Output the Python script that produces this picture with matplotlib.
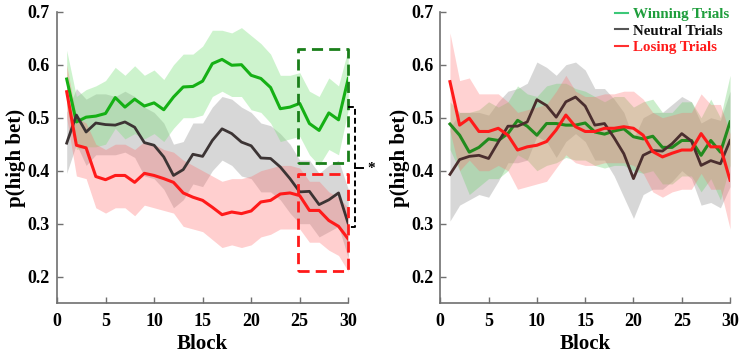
import matplotlib
matplotlib.use("Agg")
import matplotlib.pyplot as plt
import numpy as np
from matplotlib.lines import Line2D

plt.rcParams['font.family'] = ['Liberation Serif', 'DejaVu Serif']
plt.rcParams['font.weight'] = 'bold'

blocks = list(range(1, 31))

# ---- Left panel ----
L_win = [0.573, 0.492, 0.501, 0.503, 0.508, 0.538, 0.520, 0.535, 0.522, 0.528,
         0.515, 0.539, 0.558, 0.559, 0.569, 0.602, 0.610, 0.599, 0.600, 0.580,
         0.574, 0.557, 0.517, 0.520, 0.527, 0.489, 0.476, 0.509, 0.496, 0.574]
L_win_hi = [0.627, 0.540, 0.553, 0.560, 0.570, 0.595, 0.580, 0.598, 0.580, 0.590,
            0.572, 0.600, 0.620, 0.620, 0.635, 0.665, 0.665, 0.660, 0.670, 0.655,
            0.640, 0.620, 0.580, 0.580, 0.585, 0.550, 0.540, 0.575, 0.560, 0.630]
L_win_lo = [0.520, 0.440, 0.445, 0.445, 0.450, 0.480, 0.460, 0.470, 0.460, 0.470,
            0.455, 0.480, 0.500, 0.500, 0.505, 0.540, 0.550, 0.540, 0.540, 0.515,
            0.510, 0.490, 0.455, 0.460, 0.465, 0.430, 0.410, 0.440, 0.430, 0.515]

L_neu = [0.452, 0.505, 0.473, 0.490, 0.487, 0.486, 0.492, 0.482, 0.453, 0.448,
         0.426, 0.391, 0.402, 0.431, 0.427, 0.457, 0.479, 0.470, 0.454, 0.447,
         0.424, 0.423, 0.407, 0.385, 0.360, 0.361, 0.336, 0.345, 0.358, 0.300]
L_neu_hi = [0.510, 0.555, 0.535, 0.545, 0.545, 0.540, 0.550, 0.540, 0.520, 0.510,
            0.490, 0.450, 0.455, 0.490, 0.490, 0.520, 0.540, 0.535, 0.520, 0.510,
            0.490, 0.485, 0.470, 0.450, 0.420, 0.420, 0.395, 0.410, 0.420, 0.365]
L_neu_lo = [0.395, 0.450, 0.410, 0.430, 0.430, 0.430, 0.435, 0.425, 0.390, 0.385,
            0.365, 0.330, 0.345, 0.375, 0.370, 0.400, 0.420, 0.410, 0.390, 0.385,
            0.360, 0.360, 0.345, 0.320, 0.300, 0.300, 0.275, 0.285, 0.295, 0.235]

L_los = [0.549, 0.448, 0.443, 0.389, 0.383, 0.391, 0.391, 0.378, 0.395, 0.391,
         0.385, 0.378, 0.358, 0.350, 0.344, 0.331, 0.317, 0.322, 0.319, 0.324,
         0.341, 0.344, 0.356, 0.358, 0.353, 0.325, 0.325, 0.306, 0.295, 0.271]
L_los_hi = [0.600, 0.500, 0.490, 0.450, 0.440, 0.450, 0.450, 0.440, 0.455, 0.450,
            0.440, 0.435, 0.420, 0.410, 0.400, 0.390, 0.380, 0.385, 0.385, 0.390,
            0.400, 0.405, 0.410, 0.410, 0.405, 0.380, 0.380, 0.360, 0.350, 0.330]
L_los_lo = [0.500, 0.390, 0.385, 0.330, 0.320, 0.330, 0.330, 0.315, 0.335, 0.330,
            0.325, 0.320, 0.295, 0.290, 0.285, 0.270, 0.255, 0.260, 0.255, 0.260,
            0.275, 0.280, 0.290, 0.290, 0.290, 0.265, 0.265, 0.250, 0.240, 0.210]

# ---- Right panel ----
R_win = [0.488, 0.467, 0.435, 0.444, 0.460, 0.457, 0.470, 0.495, 0.484, 0.467,
         0.489, 0.489, 0.486, 0.486, 0.490, 0.473, 0.469, 0.475, 0.479, 0.464,
         0.460, 0.465, 0.444, 0.444, 0.457, 0.457, 0.429, 0.457, 0.435, 0.492]
R_win_hi = [0.530, 0.510, 0.510, 0.515, 0.530, 0.520, 0.530, 0.560, 0.545, 0.540,
            0.560, 0.565, 0.565, 0.555, 0.550, 0.540, 0.530, 0.540, 0.540, 0.520,
            0.530, 0.535, 0.510, 0.510, 0.530, 0.530, 0.500, 0.535, 0.500, 0.580]
R_win_lo = [0.440, 0.400, 0.355, 0.370, 0.385, 0.385, 0.400, 0.430, 0.420, 0.400,
            0.410, 0.415, 0.425, 0.420, 0.420, 0.410, 0.405, 0.410, 0.410, 0.400,
            0.395, 0.400, 0.375, 0.375, 0.390, 0.390, 0.360, 0.385, 0.345, 0.410]

R_neu = [0.393, 0.421, 0.427, 0.429, 0.423, 0.454, 0.484, 0.484, 0.492, 0.534,
         0.523, 0.501, 0.530, 0.539, 0.522, 0.486, 0.489, 0.462, 0.432, 0.385,
         0.429, 0.438, 0.437, 0.451, 0.470, 0.456, 0.410, 0.419, 0.413, 0.457]
R_neu_hi = [0.480, 0.510, 0.510, 0.510, 0.505, 0.530, 0.550, 0.555, 0.565, 0.605,
            0.595, 0.580, 0.600, 0.605, 0.590, 0.555, 0.555, 0.535, 0.510, 0.460,
            0.500, 0.510, 0.510, 0.525, 0.540, 0.530, 0.490, 0.500, 0.495, 0.550]
R_neu_lo = [0.305, 0.335, 0.345, 0.355, 0.350, 0.380, 0.415, 0.415, 0.420, 0.465,
            0.455, 0.425, 0.455, 0.470, 0.455, 0.420, 0.420, 0.390, 0.350, 0.310,
            0.355, 0.365, 0.365, 0.380, 0.400, 0.385, 0.335, 0.340, 0.330, 0.370]

R_los = [0.568, 0.486, 0.499, 0.474, 0.474, 0.480, 0.467, 0.439, 0.445, 0.448,
         0.455, 0.477, 0.505, 0.483, 0.474, 0.474, 0.480, 0.480, 0.483, 0.480,
         0.467, 0.436, 0.426, 0.433, 0.439, 0.439, 0.470, 0.445, 0.445, 0.382]
R_los_hi = [0.660, 0.570, 0.575, 0.545, 0.545, 0.545, 0.530, 0.510, 0.515, 0.520,
            0.525, 0.550, 0.580, 0.550, 0.540, 0.540, 0.545, 0.545, 0.550, 0.550,
            0.535, 0.510, 0.500, 0.505, 0.510, 0.510, 0.545, 0.525, 0.525, 0.470]
R_los_lo = [0.475, 0.400, 0.420, 0.400, 0.400, 0.410, 0.400, 0.365, 0.370, 0.375,
            0.380, 0.405, 0.430, 0.415, 0.410, 0.410, 0.415, 0.415, 0.415, 0.410,
            0.395, 0.360, 0.350, 0.360, 0.365, 0.365, 0.395, 0.365, 0.365, 0.290]

legend_labels = ['Winning Trials', 'Neutral Trials', 'Losing Trials']
x_ticks = [0, 5, 10, 15, 20, 25, 30]
y_ticks = [0.2, 0.3, 0.4, 0.5, 0.6, 0.7]

# highlight boxes (x0, x1, y0, y1) and bracket
green_box = (24.85, 29.95, 0.4145, 0.6295)
red_box = (24.8, 29.95, 0.2105, 0.393)
bracket = (30.0, 30.72, 0.294, 0.520)

fig = plt.figure(figsize=(7.43, 3.55), dpi=100)
ax1 = fig.add_axes([0.0767, 0.146, 0.392, 0.821])
ax2 = fig.add_axes([0.5926, 0.146, 0.390, 0.821])

def style(ax):
    ax.set_xlim(0, 30)
    ax.set_ylim(0.15, 0.7)
    ax.set_xticks(x_ticks)
    ax.set_yticks(y_ticks)
    ax.set_yticklabels([f'{v:.1f}' for v in y_ticks])
    for s in ['top', 'right']:
        ax.spines[s].set_visible(False)
    for s in ['left', 'bottom']:
        ax.spines[s].set_color('#707070')
        ax.spines[s].set_linewidth(1.2)
    ax.tick_params(direction='in', length=4, width=1, color='#707070',
                   labelsize=13, pad=5)
    ax.tick_params(axis='x', pad=7)
    for lab in ax.get_xticklabels() + ax.get_yticklabels():
        lab.set_fontweight('bold')
    ax.set_xlabel('Block', fontsize=15, fontweight='bold', labelpad=3)
    ax.set_ylabel('p(high bet)', fontsize=15, fontweight='bold', labelpad=1)

# Left panel
ax1.fill_between(blocks, L_neu_lo, L_neu_hi, color='#a8a8a8', alpha=0.45, lw=0)
ax1.fill_between(blocks, L_win_lo, L_win_hi, color='#7de07d', alpha=0.38, lw=0)
ax1.fill_between(blocks, L_los_lo, L_los_hi, color='#ff6b6b', alpha=0.32, lw=0)
ax1.plot(blocks, L_win, color='#15b015', lw=2.2)
ax1.plot(blocks, L_neu, color='#3c3434', lw=2.0)
ax1.plot(blocks, L_los, color='#ff1a1a', lw=2.2)

gx0, gx1, gy0, gy1 = green_box
ax1.plot([gx0, gx1, gx1, gx0, gx0], [gy0, gy0, gy1, gy1, gy0], color='#1a7f1a',
         lw=2.0, ls=(0, (4, 2.2)), clip_on=False)
rx0, rx1, ry0, ry1 = red_box
ax1.plot([rx0, rx1, rx1, rx0, rx0], [ry0, ry0, ry1, ry1, ry0], color='#ff1a1a',
         lw=2.0, ls=(0, (4, 2.2)), clip_on=False)
bx0, bx1, by0, by1 = bracket
ax1.plot([bx0, bx1, bx1, bx0], [by1, by1, by0, by0], color='black', lw=1.4,
         ls=(0, (3, 1.6)), clip_on=False)
bm = (by0 + by1) / 2 - 0.002
ax1.plot([bx1, bx1 + 0.8], [bm, bm], color='black', lw=1.4, clip_on=False)
ax1.text(bx1 + 1.2, bm, '*', fontsize=11, fontweight='bold', va='center',
         ha='left', clip_on=False)
style(ax1)

# Right panel
ax2.fill_between(blocks, R_neu_lo, R_neu_hi, color='#a8a8a8', alpha=0.45, lw=0)
ax2.fill_between(blocks, R_win_lo, R_win_hi, color='#6fd06f', alpha=0.35, lw=0)
ax2.fill_between(blocks, R_los_lo, R_los_hi, color='#ff6b6b', alpha=0.3, lw=0)
ax2.plot(blocks, R_win, color='#228b1e', lw=2.2)
ax2.plot(blocks, R_neu, color='#4a2e2e', lw=2.0)
ax2.plot(blocks, R_los, color='#ff1a1a', lw=2.2)
style(ax2)

handles = [Line2D([0], [0], color='#3cc878', lw=1.5),
           Line2D([0], [0], color='#555555', lw=1.5),
           Line2D([0], [0], color='#ff3030', lw=1.5)]
leg = ax2.legend(handles, legend_labels, loc='upper right', frameon=False,
                 bbox_to_anchor=(1.045, 1.06), handlelength=0.9, handletextpad=0.35,
                 labelspacing=0.2, prop={'size': 10.8, 'weight': 'bold'})
for t, c in zip(leg.get_texts(), ['#1e9e3c', '#111111', '#ff1a1a']):
    t.set_color(c)

fig.savefig('out.png', dpi=100)
